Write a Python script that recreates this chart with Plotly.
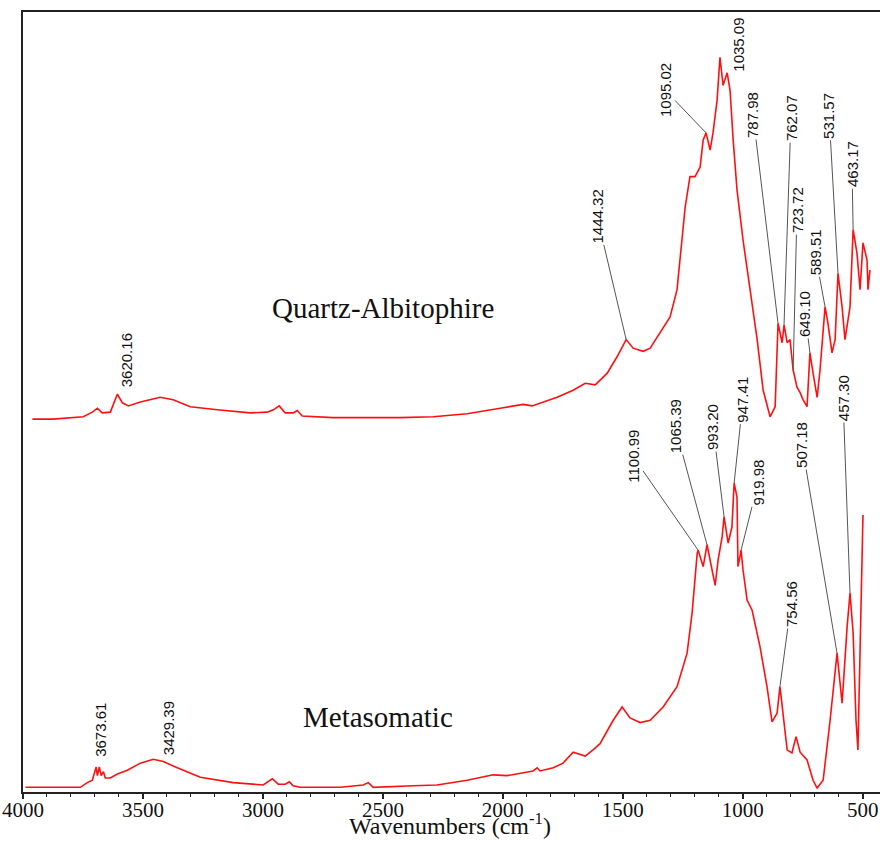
import numpy as np
import plotly.graph_objects as go

# ---------------- data (y in arbitrary units) ----------------
upper_wn = [3961, 3874, 3749, 3711, 3690, 3670, 3636, 3607, 3586, 3561, 3511, 3428, 3374, 3303, 3190,
            3053, 2982, 2957, 2932, 2907, 2874, 2857, 2836, 2707, 2565, 2428, 2290, 2149, 2011, 1915,
            1878, 1832, 1774, 1707, 1657, 1615, 1565, 1524, 1486, 1457, 1415, 1386, 1345, 1303, 1274,
            1261, 1240, 1220, 1199, 1178, 1165, 1153, 1136, 1124, 1107, 1095, 1082, 1065, 1053, 1040,
            1024, 999, 970, 940, 915, 886, 865, 853, 836, 828, 815, 803, 790, 774, 761,
            749, 732, 720, 707, 690, 678, 657, 645, 628, 615, 603, 586, 574, 553, 540,
            524, 511, 499, 482, 478, 470]
upper_val = [47.8, 47.8, 48.1, 48.7, 49.2, 48.6, 48.7, 51.0, 49.9, 49.5, 50.0, 50.6, 50.3, 49.4, 49.0,
             48.6, 48.7, 49.0, 49.5, 48.6, 48.6, 48.9, 48.2, 48.0, 48.0, 48.0, 48.1, 48.5, 49.2, 49.7,
             49.5, 50.0, 50.6, 51.5, 52.4, 52.2, 53.7, 55.8, 58.0, 56.9, 56.5, 56.9, 58.9, 60.9, 64.4,
             68.6, 75.0, 78.9, 78.9, 80.1, 83.6, 84.5, 82.3, 84.5, 88.7, 94.2, 90.6, 92.2, 90.0, 83.6,
             77.2, 70.8, 64.4, 58.0, 51.5, 48.1, 49.4, 60.1, 57.6, 59.9, 57.6, 58.0, 54.1, 51.9, 51.2,
             50.3, 49.4, 56.3, 53.7, 50.6, 54.1, 62.2, 60.1, 56.3, 58.0, 66.5, 62.2, 58.0, 62.2, 72.1,
             69.1, 64.4, 70.4, 68.2, 64.4, 66.9]

lower_wn = [3990, 3761, 3732, 3711, 3695, 3690, 3682, 3674, 3665, 3657, 3636, 3607, 3565, 3511, 3457,
            3415, 3357, 3303, 3261, 3124, 2999, 2961, 2936, 2907, 2890, 2874, 2845, 2678, 2582, 2561,
            2540, 2374, 2274, 2149, 2040, 1982, 1874, 1857, 1845, 1790, 1749, 1707, 1657, 1624, 1595,
            1540, 1503, 1470, 1428, 1386, 1332, 1274, 1232, 1211, 1199, 1190, 1186, 1165, 1149, 1128,
            1115, 1103, 1086, 1078, 1061, 1045, 1036, 1024, 1020, 1007, 999, 982, 961, 928, 899,
            878, 857, 845, 832, 815, 795, 778, 761, 732, 707, 690, 665, 636, 607, 586,
            565, 553, 540, 528, 520, 511, 503, 499]
lower_val = [0.6, 0.6, 1.2, 1.5, 3.2, 2.1, 3.2, 2.1, 2.6, 1.8, 1.8, 2.3, 2.8, 3.7, 4.2,
             3.9, 3.1, 2.4, 1.9, 1.2, 0.9, 1.7, 1.0, 1.0, 1.3, 0.8, 0.6, 0.6, 0.9, 1.2,
             0.6, 0.8, 0.9, 1.5, 2.2, 2.1, 2.7, 3.1, 2.7, 3.1, 3.7, 5.1, 4.6, 5.4, 6.2,
             9.2, 10.9, 9.5, 8.9, 9.2, 10.9, 13.5, 17.8, 23.0, 28.1, 30.6, 31.0, 28.9, 31.7, 28.5,
             26.5, 29.7, 32.7, 35.3, 31.9, 34.0, 39.6, 37.8, 28.9, 31.0, 28.5, 24.6, 23.3, 18.6, 13.5,
             9.0, 10.1, 13.5, 10.1, 5.4, 5.0, 7.1, 5.1, 4.1, 1.5, 0.5, 1.5, 9.2, 17.8, 11.4,
             21.2, 25.5, 20.4, 9.2, 5.4, 17.8, 30.6, 35.5]

# peak labels: text, where the text sits, and where its leader meets the curve (None = no leader)
upper_labels = ["3620.16", "1444.32", "1095.02", "1035.09", "787.98", "762.07",
                "723.72", "649.10", "589.51", "531.57", "463.17"]
upper_label_wn = [3565, 1607, 1324, 1016, 957, 799, 774, 740, 699, 640, 545]
upper_label_val = [55.4, 73.8, 90.0, 95.8, 86.8, 86.4, 74.6, 61.3, 69.2, 86.7, 80.5]
upper_peak_wn = [None, 1486, 1153, None, 853, 828, 790, 720, 657, 603, 540]

lower_labels = ["3673.61", "3429.39", "1100.99", "1065.39", "993.20", "947.41",
                "919.98", "754.56", "507.18", "457.30"]
lower_label_wn = [3678, 3395, 1457, 1282, 1124, 999, 936, 799, 753, 582]
lower_label_val = [8.0, 8.2, 43.0, 46.9, 46.8, 50.3, 39.7, 24.1, 44.5, 50.5]
lower_peak_wn = [None, None, 1186, 1149, 1078, 1036, 1007, 845, 607, 553]

sample_names = ["Quartz-Albitophire", "Metasomatic"]
sample_name_wn = [2501, 2520]
sample_name_val = [62.0, 9.6]

x_ticks = [4000, 3500, 3000, 2500, 2000, 1500, 1000, 500]
x_title = "Wavenumbers (cm<sup>-1</sup>)"

# ---------------- figure ----------------
RED = "#ff1010"
SERIF = "Liberation Serif, Times New Roman, serif"
fig = go.Figure()
fig.add_trace(go.Scatter(x=upper_wn, y=upper_val, mode="lines",
                         line=dict(color=RED, width=1.6), showlegend=False))
fig.add_trace(go.Scatter(x=lower_wn, y=lower_val, mode="lines",
                         line=dict(color=RED, width=1.6), showlegend=False))

label_font = dict(family="Liberation Sans, Arial, sans-serif", size=15, color="#111")


def add_labels(labels, lwn, lval, pwn, cwn, cval):
    xs = np.array(cwn[::-1], dtype=float)
    ys = np.array(cval[::-1], dtype=float)
    for t, x, y, p in zip(labels, lwn, lval, pwn):
        if p is None:
            fig.add_annotation(x=x, y=y, xref="x", yref="y", text=t, textangle=-90,
                               showarrow=False, font=label_font)
        else:
            py = float(np.interp(p, xs, ys))
            fig.add_annotation(x=p, y=py, xref="x", yref="y", ax=x, ay=y,
                               axref="x", ayref="y", text=t, textangle=-90,
                               showarrow=True, arrowhead=0, arrowwidth=1,
                               arrowcolor="#555", standoff=0, font=label_font)


add_labels(upper_labels, upper_label_wn, upper_label_val, upper_peak_wn, upper_wn, upper_val)
add_labels(lower_labels, lower_label_wn, lower_label_val, lower_peak_wn, lower_wn, lower_val)

for name, x, y in zip(sample_names, sample_name_wn, sample_name_val):
    fig.add_annotation(x=x, y=y, xref="x", yref="y", text=name, showarrow=False,
                       font=dict(family=SERIF, size=29, color="#111"))

# axis title as a paper-anchored text at the bottom edge, under the tick labels
fig.add_annotation(x=0.498, y=-0.0625, xref="paper", yref="paper", text=x_title,
                   showarrow=False, yanchor="bottom", xanchor="center",
                   font=dict(family=SERIF, size=24, color="#111"))

fig.update_layout(
    width=880, height=841,
    margin=dict(l=23, r=0, t=12, b=49),
    paper_bgcolor="white", plot_bgcolor="white",
    showlegend=False,
)
fig.update_xaxes(
    range=[4000, 428], tickvals=x_ticks, ticktext=[str(v) for v in x_ticks],
    ticks="outside", ticklen=5, tickwidth=1.5, tickcolor="#222",
    minor=dict(dtick=100, ticks="outside", ticklen=3, tickwidth=1, tickcolor="#222"),
    showline=True, linewidth=2, linecolor="#222", mirror=True,
    showgrid=False, zeroline=False, ticklabelstandoff=-7,
    tickfont=dict(family=SERIF, size=21, color="#111"),
    automargin=False,
)
fig.update_yaxes(
    range=[0, 100], showticklabels=False, ticks="",
    showline=True, linewidth=2, linecolor="#222", mirror=False,
    showgrid=False, zeroline=False, automargin=False,
)

fig.write_html("out.html", config={"displayModeBar": False},
               post_script="document.body.style.margin='0';document.body.style.overflow='hidden';")
